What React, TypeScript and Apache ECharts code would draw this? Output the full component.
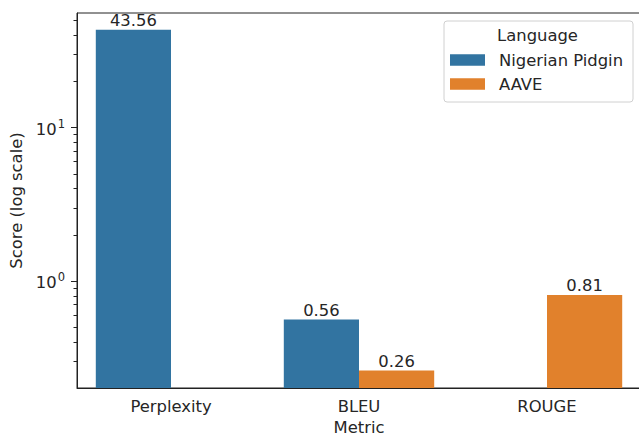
import React, { useEffect, useRef } from "react";
import * as echarts from "echarts";

const categories = ["Perplexity", "BLEU", "ROUGE"];
const seriesNames = ["Nigerian Pidgin", "AAVE"];
const nigerianPidgin: (number | null)[] = [43.56, 0.56, null];
const aave: (number | null)[] = [null, 0.26, 0.81];
const majorTicks = [1, 10];
const minorTicks = [0.3, 0.4, 0.5, 0.6, 0.7, 0.8, 0.9, 2, 3, 4, 5, 6, 7, 8, 9, 20, 30, 40, 50];

const FONT = "DejaVu Sans";
const FS = 16.4;
const TEXT = "#262626";
const LINE = "#222";
const BLUE = "#3274a1";
const ORANGE = "#e1812c";

export default function App() {
  const ref = useRef<HTMLDivElement>(null);
  useEffect(() => {
    if (!ref.current) return;
    const chart = echarts.init(ref.current, undefined, { renderer: "svg" });
    const yMin = 0.2;
    const yMax = 56.1;
    const barLabel = {
      show: true,
      position: "top" as const,
      distance: 1,
      color: TEXT,
      fontFamily: FONT,
      fontSize: FS,
      formatter: (p: any) => Number(p.value).toFixed(2),
    };
    chart.setOption({
      animation: false,
      textStyle: { fontFamily: FONT },
      grid: {
        left: 77,
        top: 13,
        right: -2,
        bottom: 48,
        containLabel: false,
        outerBoundsMode: "none",
        show: true,
        borderColor: LINE,
        borderWidth: 1,
        backgroundColor: "transparent",
      },
      legend: {
        orient: "vertical",
        left: 450,
        top: 52,
        padding: 0,
        itemWidth: 35,
        itemHeight: 11.5,
        itemGap: 8,
        icon: "rect",
        data: seriesNames,
        textStyle: { color: TEXT, fontFamily: FONT, fontSize: FS, padding: [0, 0, 0, 9] },
      },
      graphic: [
        {
          type: "rect",
          shape: { x: 444, y: 21, width: 189, height: 81, r: 3 },
          style: { fill: "rgba(255,255,255,0.8)", stroke: "#d0d0d0", lineWidth: 1 },
          z: 1,
        },
        {
          type: "text",
          x: 537.5,
          y: 35,
          style: {
            text: "Language",
            fill: TEXT,
            fontFamily: FONT,
            fontSize: FS,
            textAlign: "center",
            textVerticalAlign: "middle",
          },
          z: 2,
        },
      ],
      xAxis: {
        type: "category",
        data: categories,
        name: "Metric",
        nameLocation: "middle",
        nameGap: 31,
        nameTextStyle: { color: TEXT, fontFamily: FONT, fontSize: FS },
        axisLine: { lineStyle: { color: LINE, width: 1 } },
        axisTick: { alignWithLabel: true, length: 6, lineStyle: { color: LINE } },
        axisLabel: { color: TEXT, fontFamily: FONT, fontSize: FS, margin: 10 },
        splitLine: { show: false },
      },
      yAxis: [
        {
          type: "log",
          logBase: 10,
          min: yMin,
          max: yMax,
          startValue: yMin,
          name: "Score (log scale)",
          nameLocation: "middle",
          nameGap: 52,
          nameTextStyle: { color: TEXT, fontFamily: FONT, fontSize: FS },
          axisLine: { show: true, lineStyle: { color: LINE, width: 1 } },
          axisTick: { show: true, length: 6, customValues: majorTicks, lineStyle: { color: LINE } },
          axisLabel: {
            customValues: majorTicks,
            margin: 12,
            color: TEXT,
            formatter: (v: number) => `{b|10}{s|${Math.round(Math.log10(v))}}`,
            rich: {
              b: { fontFamily: FONT, fontSize: FS, color: TEXT, verticalAlign: "bottom", padding: [0, 1, 0, 0] },
              s: { fontFamily: FONT, fontSize: 11.5, color: TEXT, verticalAlign: "bottom", padding: [0, 0, 8, 0] },
            },
          },
          splitLine: { show: false },
        },
        {
          type: "log",
          logBase: 10,
          min: yMin,
          max: yMax,
          position: "left",
          axisLine: { show: false },
          axisTick: { show: true, length: 3.5, customValues: minorTicks, lineStyle: { color: LINE } },
          axisLabel: { show: false },
          splitLine: { show: false },
        },
      ],
      series: [
        {
          name: seriesNames[0],
          type: "bar",
          yAxisIndex: 0,
          data: nigerianPidgin.map((v) => (v == null ? "-" : v)),
          itemStyle: { color: BLUE },
          barGap: "0%",
          barCategoryGap: "20%",
          label: barLabel,
        },
        {
          name: seriesNames[1],
          type: "bar",
          yAxisIndex: 0,
          data: aave.map((v) => (v == null ? "-" : v)),
          itemStyle: { color: ORANGE },
          barGap: "0%",
          barCategoryGap: "20%",
          label: barLabel,
        },
      ],
    });
    return () => chart.dispose();
  }, []);
  return (
    <div
      ref={ref}
      style={{ position: "fixed", left: 0, top: 0, width: 639, height: 436, background: "#fff" }}
    />
  );
}
